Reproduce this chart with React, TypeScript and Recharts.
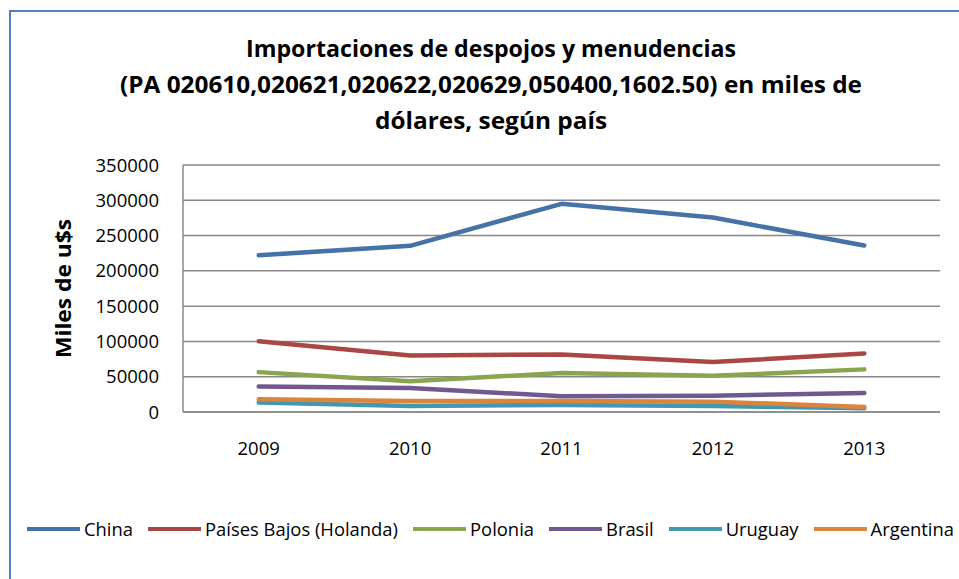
import React from 'react';
import { LineChart, Line, XAxis, YAxis, CartesianGrid } from 'recharts';

const years = ['2009', '2010', '2011', '2012', '2013'];
const china = [222000, 235500, 295000, 275500, 236000];
const paisesBajos = [100400, 80100, 81500, 70800, 83000];
const polonia = [56500, 43700, 55100, 51200, 60400];
const brasil = [36000, 34100, 22300, 23200, 27000];
const uruguay = [13300, 8500, 10000, 8500, 5200];
const argentina = [18000, 15600, 15600, 14700, 7100];
const yTicks = [0, 50000, 100000, 150000, 200000, 250000, 300000, 350000];

const titleLines = [
  'Importaciones de despojos y menudencias',
  '(PA 020610,020621,020622,020629,050400,1602.50) en miles de',
  'dólares, según país',
];
const titleWidths = [490, 742, 232];

const seriesDefs = [
  { key: 'china', name: 'China', color: '#4572A7', values: china },
  { key: 'pb', name: 'Países Bajos (Holanda)', color: '#AA4643', values: paisesBajos },
  { key: 'polonia', name: 'Polonia', color: '#89A54E', values: polonia },
  { key: 'brasil', name: 'Brasil', color: '#71588F', values: brasil },
  { key: 'uruguay', name: 'Uruguay', color: '#4198AF', values: uruguay },
  { key: 'argentina', name: 'Argentina', color: '#DB843D', values: argentina },
];

const data = years.map((y, i) => {
  const row: Record<string, string | number> = { year: y };
  seriesDefs.forEach((s) => {
    row[s.key] = s.values[i];
  });
  return row;
});

const FONT = '"Open Sans", sans-serif';
const GRID = '#888888';

const LegendBlock = () => (
  <div
    style={{
      position: 'absolute',
      left: 27,
      top: 516,
      display: 'flex',
      alignItems: 'center',
      fontFamily: FONT,
      fontSize: 18.4,
      lineHeight: '26px',
      color: '#000',
      whiteSpace: 'nowrap',
    }}
  >
    {seriesDefs.map((s) => (
      <div key={s.key} style={{ display: 'flex', alignItems: 'center', marginRight: 15 }}>
        <div style={{ width: 53, height: 4, background: s.color, marginRight: 4 }} />
        <span>{s.name}</span>
      </div>
    ))}
  </div>
);

const YLabel = (props: any) => {
  const vb = props.viewBox || {};
  const cy = (vb.y || 0) + (vb.height || 0) / 2;
  return (
    <text
      x={62}
      y={cy}
      transform={`rotate(-90, 62, ${cy})`}
      textAnchor="middle"
      dominantBaseline="central"
      fontFamily={FONT}
      fontWeight={700}
      fontSize={22}
      fill="#000"
      textLength={139}
      lengthAdjust="spacingAndGlyphs"
    >
      Miles de u$s
    </text>
  );
};

export default function App() {
  return (
    <div style={{ position: 'absolute', left: 0, top: 0, width: 959, height: 579, overflow: 'hidden', background: '#fff' }}>
      <div
        style={{
          position: 'absolute',
          left: 9,
          top: 10,
          width: 1000,
          height: 700,
          border: '2px solid #4F81BD',
          boxSizing: 'border-box',
        }}
      />
      <div style={{ position: 'absolute', left: 0, top: 0 }}>
        <LineChart width={959} height={579} data={data} margin={{ top: 165, right: 19, bottom: 137, left: 0 }}>
          <CartesianGrid vertical={false} stroke={GRID} strokeWidth={1.5} />
          <XAxis
            dataKey="year"
            height={30}
            padding={{ left: 75.7, right: 75.7 }}
            axisLine={{ stroke: GRID, strokeWidth: 1.5 }}
            tickLine={false}
            tickSize={0}
            tickMargin={30}
            tick={{ fill: '#000', fontFamily: FONT, fontSize: 18.5 }}
          />
          <YAxis
            width={183}
            domain={[0, 350000]}
            ticks={yTicks}
            interval={0}
            axisLine={{ stroke: GRID, strokeWidth: 1.5 }}
            tickLine={false}
            tickSize={0}
            tickMargin={24}
            tick={{ fill: '#000', fontFamily: FONT, fontSize: 18.5 }}
            label={<YLabel />}
          />
          {seriesDefs.map((s) => (
            <Line
              key={s.key}
              dataKey={s.key}
              name={s.name}
              stroke={s.color}
              strokeWidth={4.5}
              strokeLinecap="round"
              strokeLinejoin="round"
              dot={false}
              activeDot={false}
              isAnimationActive={false}
            />
          ))}
        </LineChart>
      </div>
      <LegendBlock />
      <svg width={959} height={579} style={{ position: 'absolute', left: 0, top: 0, pointerEvents: 'none' }}>
        {titleLines.map((t, i) => (
          <text
            key={i}
            x={491}
            y={57 + i * 36}
            textAnchor="middle"
            fontFamily={FONT}
            fontWeight={700}
            fontSize={24}
            fill="#000"
            textLength={titleWidths[i]}
            lengthAdjust="spacingAndGlyphs"
          >
            {t}
          </text>
        ))}
      </svg>
    </div>
  );
}
